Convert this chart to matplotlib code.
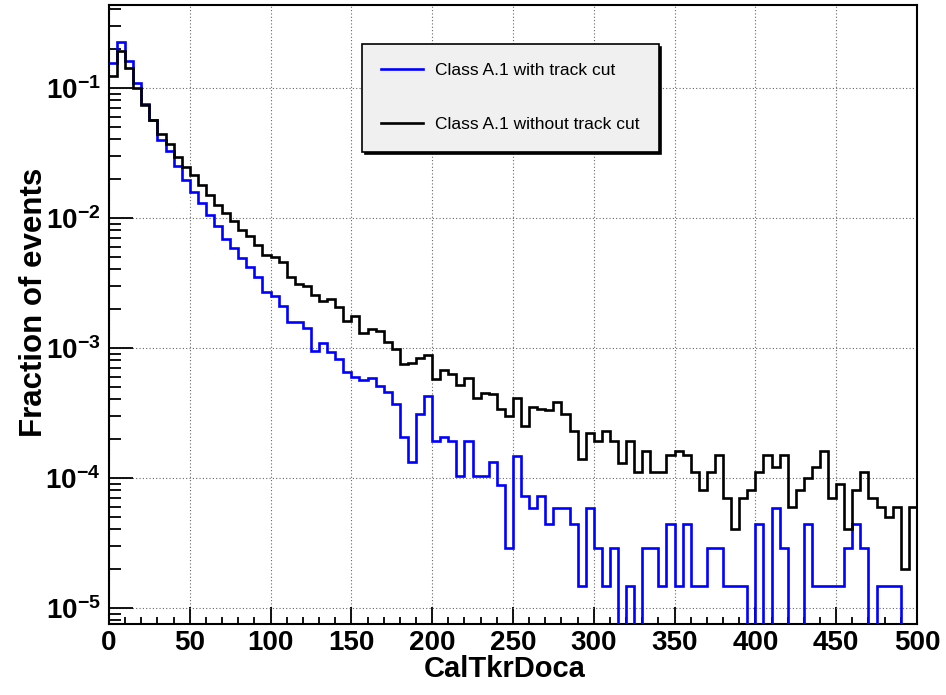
import numpy as np
import matplotlib
matplotlib.use("Agg")
import matplotlib.pyplot as plt
from matplotlib.ticker import MultipleLocator, LogLocator, FuncFormatter, NullFormatter

plt.rcParams['font.family'] = ['Liberation Sans', 'DejaVu Sans']
plt.rcParams['mathtext.fontset'] = 'custom'
plt.rcParams['mathtext.rm'] = 'Liberation Sans:bold'
plt.rcParams['mathtext.bf'] = 'Liberation Sans:bold'

# Histogram binning: 100 bins of width 5 from 0 to 500
bin_edges = np.arange(0, 505, 5)

# Fraction of events per bin, with track cut
with_cut = [
    0.154, 0.224, 0.161, 0.108, 0.0745, 0.0565, 0.0396, 0.0326, 0.025, 0.0195,
    0.0158, 0.0129, 0.0105, 0.0086, 0.0069, 0.0059, 0.0049, 0.0042, 0.0035, 0.0027,
    0.0025, 0.0021, 0.00158, 0.00158, 0.00141, 0.00095, 0.00108, 0.00093, 0.00082, 0.00065,
    0.00060, 0.00056, 0.00059, 0.00051, 0.00046, 0.00037, 0.000205, 0.000132, 0.000308, 0.000425,
    0.00019, 0.000205, 0.00019, 0.000103, 0.00019, 0.000103, 0.000103, 0.000132, 0.000088, 0.000029,
    0.000147, 0.000073, 0.000059, 0.000073, 0.000044, 0.000059, 0.000059, 0.000044, 0.0000147, 0.000059,
    0.000029, 0.0000147, 0.000029, 0.0, 0.0000147, 0.0, 0.000029, 0.000029, 0.0000147, 0.000044,
    0.0000147, 0.000044, 0.0000147, 0.0000147, 0.000029, 0.000029, 0.0000147, 0.0000147, 0.0000147, 0.0,
    0.000044, 0.0, 0.000059, 0.000029, 0.0, 0.0, 0.000044, 0.0000147, 0.0000147, 0.0000147,
    0.0000147, 0.000029, 0.000044, 0.000029, 0.0, 0.0000147, 0.0000147, 0.0000147, 0.0, 0.0,
]

# Fraction of events per bin, without track cut
without_cut = [
    0.124, 0.192, 0.143, 0.100, 0.0740, 0.0567, 0.0440, 0.0369, 0.0294, 0.0244,
    0.0213, 0.0179, 0.0150, 0.0126, 0.0108, 0.0095, 0.0080, 0.0072, 0.0062, 0.0052,
    0.0050, 0.0046, 0.0035, 0.0031, 0.0030, 0.00254, 0.0023, 0.00237, 0.00206, 0.00161,
    0.00175, 0.00129, 0.00139, 0.00135, 0.00111, 0.00097, 0.00075, 0.00076, 0.00084, 0.00088,
    0.00057, 0.00067, 0.00063, 0.00052, 0.00058, 0.00041, 0.00045, 0.00044, 0.00034, 0.00030,
    0.00041, 0.00025, 0.00035, 0.00034, 0.00033, 0.00038, 0.00031, 0.00023, 0.00014, 0.00022,
    0.00019, 0.00023, 0.00019, 0.00013, 0.00019, 0.00011, 0.00016, 0.00011, 0.00011, 0.00015,
    0.00016, 0.00015, 0.00011, 0.00008, 0.00011, 0.00015, 0.00007, 0.00004, 0.00007, 0.00008,
    0.00011, 0.00015, 0.00012, 0.00015, 0.00006, 0.00008, 0.00010, 0.00012, 0.00016, 0.00007,
    0.00009, 0.00004, 0.00008, 0.00011, 0.00007, 0.00006, 0.00005, 0.00006, 0.00002, 0.00006,
]

labels = ["Class A.1 with track cut", "Class A.1 without track cut"]

fig = plt.figure(figsize=(9.46, 6.95), dpi=100)
ax = fig.add_axes([0.1152, 0.1022, 0.8541, 0.8906])
ax.set_yscale('log', nonpositive='clip')

ax.stairs(with_cut, bin_edges, baseline=None, color='#0000ff', lw=1.9, label=labels[0], zorder=3)
ax.stairs(without_cut, bin_edges, baseline=None, color='black', lw=1.9, label=labels[1], zorder=3)

ax.set_xlim(0, 500)
ax.set_ylim(7.5e-6, 0.433)

# ticks: inward, left and bottom only
ax.xaxis.set_major_locator(MultipleLocator(50))
ax.xaxis.set_minor_locator(MultipleLocator(10))
ax.yaxis.set_major_locator(LogLocator(base=10, numticks=10))
ax.yaxis.set_minor_locator(LogLocator(base=10, subs=np.arange(2, 10), numticks=20))
ax.yaxis.set_minor_formatter(NullFormatter())
ax.yaxis.set_major_formatter(FuncFormatter(
    lambda v, p: r'$\mathbf{10^{%d}}$' % int(round(np.log10(v)))))

ax.tick_params(axis='both', which='both', direction='in', top=False, right=False, width=1.3)
ax.tick_params(axis='x', which='major', length=12, labelsize=20, pad=4)
ax.tick_params(axis='x', which='minor', length=5)
ax.tick_params(axis='y', which='major', length=17, labelsize=20, pad=6)
ax.tick_params(axis='y', which='minor', length=8.5)
for lbl in ax.get_xticklabels():
    lbl.set_fontweight('bold')

for s in ax.spines.values():
    s.set_linewidth(1.5)

ax.grid(True, which='major', linestyle=(0, (1, 2)), linewidth=0.8, color='0.4')
ax.set_axisbelow(True)

ax.set_xlabel("CalTkrDoca", fontsize=21, fontweight='bold')
ax.set_ylabel("Fraction of events", fontsize=22.5, fontweight='bold')
ax.xaxis.set_label_coords(0.49, -0.05)
ax.yaxis.set_label_coords(-0.074, 0.52)

leg = ax.legend(loc='upper left', bbox_to_anchor=(362 / 946, 1 - 44 / 695),
                bbox_transform=fig.transFigure, borderaxespad=0,
                fontsize=12.5, frameon=True, fancybox=False,
                shadow={'color': 'black', 'alpha': 1.0},
                edgecolor='black', facecolor='#f0f0f0', framealpha=1,
                handlelength=2.4, handletextpad=0.7,
                labelspacing=2.25, borderpad=1.1)
leg.get_frame().set_linewidth(1.2)
for line in leg.get_lines():
    line.set_linewidth(1.9)

fig.savefig("out.png", dpi=100)
